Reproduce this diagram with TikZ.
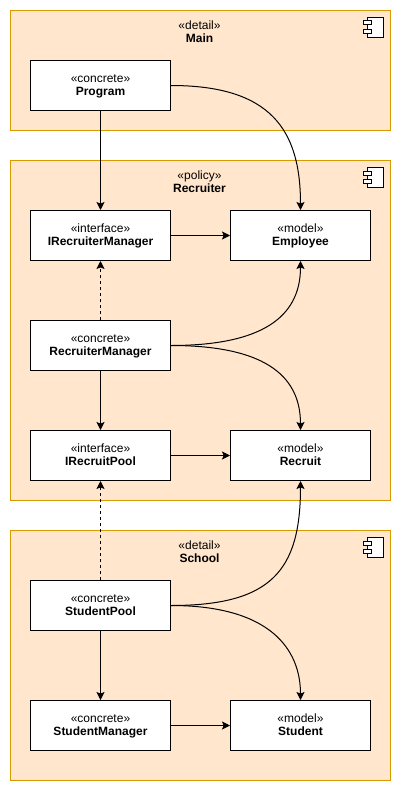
\documentclass[tikz,border=0pt]{standalone}
\usepackage{fontspec}
\setmainfont{Liberation Sans}
\usetikzlibrary{arrows.meta}

\definecolor{packfill}{HTML}{FFE6CC}
\definecolor{packline}{HTML}{D79B00}

\begin{document}
\begin{tikzpicture}[x=0.75pt, y=-0.75pt, line width=0.75pt,
		package/.style={draw=packline, fill=packfill, minimum width=285pt, inner sep=0pt},
		packtext/.style={align=center, inner sep=0pt, font=\fontsize{9}{10}\selectfont},
		classbox/.style={draw=black, fill=white, minimum width=105pt, minimum height=37.5pt, inner sep=0pt, align=center, text height=17.7pt, text depth=2pt, font=\fontsize{9}{10}\selectfont},
		dep/.style={-{Stealth[length=6pt, width=6pt, inset=1.2pt]}, black},
		impl/.style={dep, dash pattern=on 2.25pt off 2.25pt},
		icon/.style={draw=black, fill=white, inner sep=0pt}]
	\useasboundingbox (0,0) rectangle (402,792);

	\node[package, minimum height=90pt] (main) at (200.5,70.5) {};
	\node[package, minimum height=255pt] (recruiter) at (200.5,330.5) {};
	\node[package, minimum height=187.5pt] (school) at (200.5,655.5) {};

	\node[packtext] (maintext) at (199.5,31.5) {«detail»\\\textbf{Main}};
	\node[packtext] (recruitertext) at (199.5,181.5) {«policy»\\\textbf{Recruiter}};
	\node[packtext] (schooltext) at (199.5,551.5) {«detail»\\\textbf{School}};

	\foreach \top in {17.5,167.5,537.5} {
		\draw[icon] (367.5,\top) rectangle ++(16,20);
		\draw[icon] (363.5,\top+3.5) rectangle ++(8,4);
		\draw[icon] (363.5,\top+12) rectangle ++(8,4);
	}

	\node[classbox] (program) at (100.5,85.5) {«concrete»\\\textbf{Program}};
	\node[classbox] (irecruitermanager) at (100.5,235.5) {«interface»\\\textbf{IRecruiterManager}};
	\node[classbox] (employee) at (300.5,235.5) {«model»\\\textbf{Employee}};
	\node[classbox] (recruitermanager) at (100.5,345.5) {«concrete»\\\textbf{RecruiterManager}};
	\node[classbox] (irecruitpool) at (100.5,455.5) {«interface»\\\textbf{IRecruitPool}};
	\node[classbox] (recruit) at (300.5,455.5) {«model»\\\textbf{Recruit}};
	\node[classbox] (studentpool) at (100.5,605.5) {«concrete»\\\textbf{StudentPool}};
	\node[classbox] (studentmanager) at (100.5,725.5) {«concrete»\\\textbf{StudentManager}};
	\node[classbox] (student) at (300.5,725.5) {«model»\\\textbf{Student}};

	\draw[dep] (program) -- (irecruitermanager);
	\draw[dep] (irecruitermanager) -- (employee);
	\draw[dep] (recruitermanager) -- (irecruitpool);
	\draw[dep] (irecruitpool) -- (recruit);
	\draw[dep] (studentpool) -- (studentmanager);
	\draw[dep] (studentmanager) -- (student);
	\draw[impl] (recruitermanager) -- (irecruitermanager);
	\draw[impl] (studentpool) -- (irecruitpool);
	\draw[dep] (program.east) .. controls +(100,0) and +(0,-80) .. (employee.north);
	\draw[dep] (recruitermanager.east) .. controls +(100,0) and +(0,50) .. (employee.south);
	\draw[dep] (recruitermanager.east) .. controls +(100,0) and +(0,-50) .. (recruit.north);
	\draw[dep] (studentpool.east) .. controls +(100,0) and +(0,90) .. (recruit.south);
	\draw[dep] (studentpool.east) .. controls +(100,0) and +(0,-50) .. (student.north);
\end{tikzpicture}
\end{document}
